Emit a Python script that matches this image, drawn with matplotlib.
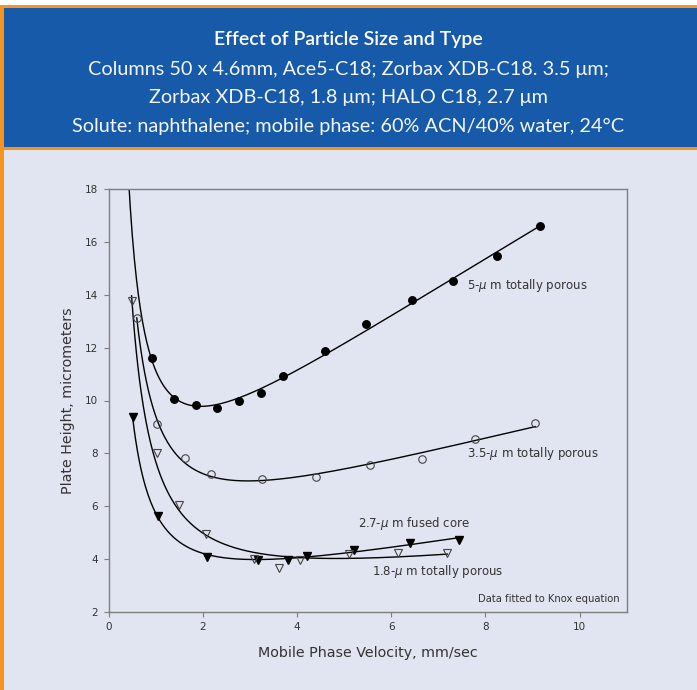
import numpy as np
import matplotlib
matplotlib.use("Agg")
import matplotlib.pyplot as plt
from matplotlib.patches import Rectangle

# Measured plate heights (micrometers) vs. mobile phase velocity (mm/sec)
v_5um = [0.92, 1.38, 1.85, 2.30, 2.77, 3.24, 3.71, 4.59, 5.46, 6.45, 7.31, 8.25, 9.16]
h_5um = [11.62, 10.04, 9.84, 9.73, 9.97, 10.29, 10.94, 11.88, 12.90, 13.79, 14.53, 15.48, 16.59]

v_35um = [0.60, 1.03, 1.62, 2.17, 3.26, 4.40, 5.55, 6.66, 7.79, 9.06]
h_35um = [13.13, 9.12, 7.84, 7.22, 7.04, 7.11, 7.55, 7.79, 8.55, 9.16]

v_27core = [0.51, 1.05, 2.10, 3.17, 3.82, 4.22, 5.21, 6.41, 7.44]
h_27core = [9.39, 5.62, 4.09, 3.98, 3.97, 4.13, 4.36, 4.61, 4.72]

v_18um = [0.49, 1.02, 1.50, 2.07, 3.09, 3.62, 4.07, 5.11, 6.15, 7.19]
h_18um = [13.76, 8.00, 6.05, 4.96, 3.99, 3.68, 3.98, 4.19, 4.22, 4.23]

labels = ["5-$\\mu$ m totally porous", "3.5-$\\mu$ m totally porous",
          "2.7-$\\mu$ m fused core", "1.8-$\\mu$ m totally porous"]

x_ticks = [0, 2, 4, 6, 8, 10]
y_ticks = [2, 4, 6, 8, 10, 12, 14, 16, 18]

title = "Effect of Particle Size and Type"
subtitle = ["Columns 50 x 4.6mm, Ace5-C18; Zorbax XDB-C18. 3.5 \u03bcm;",
            "Zorbax XDB-C18, 1.8 \u03bcm; HALO C18, 2.7 \u03bcm",
            "Solute: naphthalene; mobile phase: 60% ACN/40% water, 24\u00b0C"]

BLUE = "#175aa9"
ORANGE = "#f7941d"
LAVENDER = "#e1e4f1"
INK = "#333333"
SPINE = "#7f7f7f"

plt.rcParams["font.family"] = ["DejaVu Sans"]
plt.rcParams["mathtext.fontset"] = "dejavusans"

W, H = 697, 690
fig = plt.figure(figsize=(W / 100, H / 100), dpi=100, facecolor=LAVENDER)


def px_rect(x0, y0, x1, y1, color):
    fig.patches.append(Rectangle((x0 / W, 1 - y1 / H), (x1 - x0) / W, (y1 - y0) / H,
                                 transform=fig.transFigure, facecolor=color,
                                 edgecolor="none", zorder=0))


# Page frame and header banner
px_rect(0, 0, W, 5, "white")
px_rect(0, 5, W, 150, ORANGE)
px_rect(0, 5, 4, H, ORANGE)
px_rect(4, 8, W, 147, BLUE)

hdr_font = ["Lato", "DejaVu Sans"]
fig.text(0.5, 1 - 40 / H, title, ha="center", va="center", color="white",
         fontsize=14, fontweight="semibold", family=hdr_font)
for i, line in enumerate(subtitle):
    fig.text(0.5, 1 - (69 + 28.5 * i) / H, line, ha="center", va="center",
             color="#f4f6fb", fontsize=14.3, fontweight="normal", family=hdr_font)

ax = fig.add_axes([108.5 / W, 1 - 612 / H, (626.7 - 108.5) / W, (612 - 189) / H])
ax.set_facecolor(LAVENDER)


def knox(v, coef):
    v = np.asarray(v, dtype=float)
    return coef[0] * v ** (1 / 3) + coef[1] / v + coef[2] * v


def knox_fit(v, h):
    v = np.asarray(v, dtype=float)
    basis = np.column_stack([v ** (1 / 3), 1 / v, v])
    coef, *_ = np.linalg.lstsq(basis, np.asarray(h, dtype=float), rcond=None)
    return coef


series = [
    (v_5um, h_5um, dict(marker="o", ms=5.4, mfc="black", mec="black"), 0.35),
    (v_35um, h_35um, dict(marker="o", ms=5.4, mfc="none", mec="#444444", mew=0.8), None),
    (v_27core, h_27core, dict(marker="v", ms=5.8, mfc="black", mec="black"), None),
    (v_18um, h_18um, dict(marker="v", ms=6.0, mfc="none", mec="#444444", mew=0.8), None),
]

for v, h, style, v_start in series:
    coef = knox_fit(v, h)
    lo = v_start if v_start is not None else min(v)
    vv = np.linspace(lo, max(v), 400)
    ax.plot(vv, knox(vv, coef), color="black", lw=1.0, zorder=2)
    ax.plot(v, h, ls="none", zorder=3, **style)

label_pos = [(7.6, 14.34), (7.6, 8.0), (5.3, 5.33), (5.6, 3.52)]
for text, (x, y) in zip(labels, label_pos):
    ax.text(x, y, text, ha="left", va="center", fontsize=8.5, color=INK)

ax.text(10.86, 2.5, "Data fitted to Knox equation", ha="right", va="center",
        fontsize=7.2, color=INK)

ax.set_xlim(0, 11)
ax.set_ylim(2, 18)
ax.set_xticks(x_ticks)
ax.set_yticks(y_ticks)
ax.tick_params(axis="both", direction="out", length=3.5, width=0.8, color=SPINE,
               labelsize=7.5, labelcolor=INK, pad=4)
for side in ax.spines.values():
    side.set_color(SPINE)
    side.set_linewidth(1.0)

ax.set_xlabel("Mobile Phase Velocity, mm/sec", fontsize=10.3, color=INK, labelpad=10)
ax.set_ylabel("Plate Height, micrometers", fontsize=10.3, color=INK, labelpad=7)

fig.savefig("out.png", dpi=100, facecolor=LAVENDER)
